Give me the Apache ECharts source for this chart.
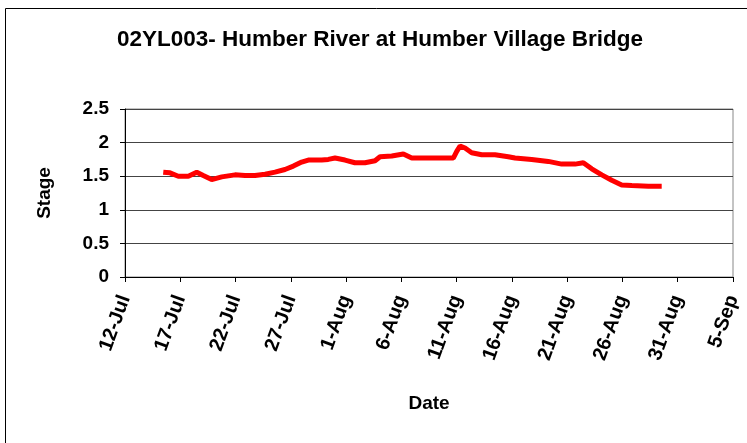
<!doctype html>
<html>
<head>
<meta charset="utf-8">
<title>02YL003 Stage</title>
<script src="https://cdn.jsdelivr.net/npm/echarts@6/dist/echarts.min.js"></script>
<style>
    html,body{
        margin: 0;
        padding: 0;
        background: #fff;
    }
    #chart{
        width: 747px;
        height: 443px;
    }
</style>
</head>
<body>
<div id="chart"></div>
<script>
    // days after 12-Jul
    var dayOffsets = [3.46, 4.07, 4.82, 5.73, 6.49, 7.08, 7.84, 8.75, 9.95, 10.86,
        11.76, 12.67, 13.57, 14.47, 15.23, 15.98, 16.58, 17.79, 18.39, 19.00,
        19.90, 20.80, 21.71, 22.62, 23.07, 24.13, 25.18, 25.94, 27.14, 28.34,
        29.70, 30.01, 30.31, 30.76, 31.36, 32.27, 33.47, 34.67, 35.28, 36.79,
        38.29, 39.51, 40.71, 41.46, 42.22, 43.13, 44.03, 44.93, 45.84, 47.34, 48.55];
    var stage = [1.56, 1.55, 1.50, 1.50, 1.56, 1.51, 1.45, 1.49, 1.52, 1.51,
        1.51, 1.53, 1.56, 1.60, 1.65, 1.71, 1.74, 1.74, 1.75, 1.77,
        1.74, 1.70, 1.70, 1.73, 1.79, 1.80, 1.83, 1.77, 1.77, 1.77,
        1.77, 1.87, 1.95, 1.92, 1.85, 1.82, 1.82, 1.79, 1.77, 1.75,
        1.72, 1.68, 1.68, 1.70, 1.61, 1.52, 1.44, 1.37, 1.36, 1.35, 1.35];
    var months = ['Jan','Feb','Mar','Apr','May','Jun','Jul','Aug','Sep','Oct','Nov','Dec'];

    var font = 'Liberation Sans, Arial, sans-serif';
    var points = dayOffsets.map(function(d, i){ return [d, stage[i]]; });

    var chart = echarts.init(document.getElementById('chart'));
    chart.setOption({
        animation: false,
        title: {
            text: '02YL003- Humber River at Humber Village Bridge',
            left: 112,
            top: 23,
            textStyle: {fontFamily: font, fontSize: 22.5, fontWeight: 'bold', color: '#000'}
        },
        grid: {
            left: 125, right: 14, top: 109, bottom: 166,
            show: true, borderColor: '#888', borderWidth: 1
        },
        graphic: [{
            type: 'rect',
            shape: {x: 5.5, y: 8.5, width: 800, height: 500},
            style: {fill: 'none', stroke: '#000', lineWidth: 1}
        }],
        xAxis: {
            type: 'value',
            min: 0, max: 55, interval: 5,
            name: 'Date', nameLocation: 'middle', nameGap: 117,
            nameTextStyle: {fontFamily: font, fontSize: 19, fontWeight: 'bold', color: '#000'},
            axisLine: {lineStyle: {color: '#000', width: 1}},
            axisTick: {length: 5, lineStyle: {color: '#000'}},
            splitLine: {show: false},
            axisLabel: {
                rotate: 70, margin: 19,
                fontFamily: font, fontSize: 20, fontWeight: 'bold', color: '#000',
                formatter: function(v){
                    var d = new Date(2009, 6, 12 + v);
                    return d.getDate() + '-' + months[d.getMonth()];
                }
            }
        },
        yAxis: {
            type: 'value',
            min: 0, max: 2.5, interval: 0.5,
            name: 'Stage', nameLocation: 'middle', nameGap: 71, nameRotate: 90,
            nameTextStyle: {fontFamily: font, fontSize: 19, fontWeight: 'bold', color: '#000'},
            axisLine: {show: true, lineStyle: {color: '#000', width: 1}},
            axisTick: {show: true, length: 5, lineStyle: {color: '#000'}},
            splitLine: {lineStyle: {color: '#444', width: 1}},
            axisLabel: {margin: 16, fontFamily: font, fontSize: 19, fontWeight: 'bold', color: '#000'}
        },
        series: [{
            type: 'line',
            data: points,
            showSymbol: false,
            symbol: 'none',
            lineStyle: {color: '#ff0000', width: 5}
        }]
    });
</script>
</body>
</html>
